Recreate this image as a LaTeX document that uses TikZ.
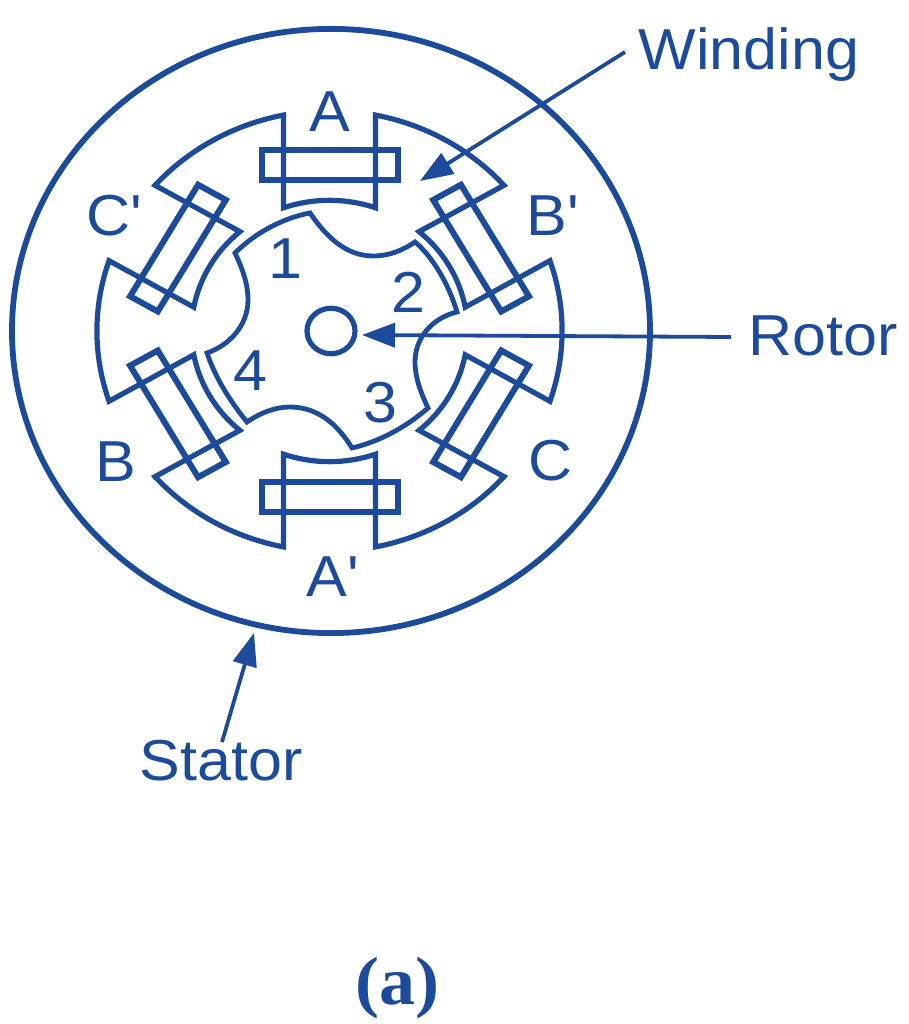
\documentclass[tikz,border=0pt]{standalone}
\usepackage{fontspec}
\usepackage{graphicx}
\newfontfamily\lblfont{Liberation Sans}
\newfontfamily\serifbold{Liberation Serif}[BoldFont={Liberation Serif Bold}]
\usetikzlibrary{arrows.meta}
\definecolor{ink}{HTML}{1C4B9B}
\newcommand{\sqz}[1]{\scalebox{1}[.947]{#1}}
\tikzset{
  part/.style={draw=ink,line width=5.2pt,line join=miter},
  coil/.style={draw=ink,line width=6pt,line join=miter},
  lbl/.style={text=ink,inner sep=0pt,font=\lblfont\fontsize{61}{61}\selectfont},
  pointer/.style={draw=ink,line width=3.8pt,-{Triangle[length=33pt,width=24pt]},shorten >=0pt},
}
\begin{document}
\begin{tikzpicture}[x=1pt,y=1pt]
\useasboundingbox (0,0) rectangle (909,1024);
% stator outer circle and rotor shaft
\begin{scope}[shift={(331,693)},yscale=.947]
  \draw[part,line width=5.8pt] (0,0) circle[radius=319pt];
  \draw[part] (0,0) circle[radius=24pt];
\end{scope}
% stator poles and coils: circular geometry, squeezed vertically as in the reference
\begin{scope}[shift={(329.5,693)},yscale=.947]
  \draw[part] (101.4:232.6pt)
    \foreach \a in {90,30,-30,-90,-150,-210}{
      -- ({\a+19.5}:138pt) arc[start angle={\a+19.5},end angle={\a-19.5},radius=138pt]
      -- ({\a-11.4}:232.6pt) arc[start angle={\a-11.4},end angle={\a-48.6},radius=232.6pt]
    } -- cycle;
  \foreach \a in {90,30,-30,-90,-150,-210}{
    \draw[coil,rotate=\a-90] (-68,159) rectangle (68,191);
  }
\end{scope}
% rotor, labels and pointers in reference pixel coordinates
\begin{scope}[shift={(0,1024)},yscale=-1]
  \draw[part,line width=4.8pt]
    (235,253) .. controls (255,233) and (283,218) .. (310,213)
    .. controls (325,235) and (345,256) .. (373,256)
    .. controls (390,256) and (403,250) .. (415,242)
    .. controls (433,257) and (449,285) .. (457,312)
    .. controls (432,318) and (415,338) .. (415,362)
    .. controls (415,378) and (421,393) .. (428,408)
    .. controls (405,428) and (378,442) .. (352,448)
    .. controls (338,425) and (318,407) .. (290,407)
    .. controls (275,407) and (260,413) .. (247,422)
    .. controls (233,405) and (216,380) .. (207,353)
    .. controls (230,345) and (248,325) .. (248,300)
    .. controls (248,283) and (242,268) .. (235,253) -- cycle;

  \node[lbl] (labA)  at (330,112) {\sqz{A}};
  \node[lbl] (labAp) at (333,577) {\sqz{A'}};
  \node[lbl] (labB)  at (116,462) {\sqz{B}};
  \node[lbl] (labBp) at (553,216) {\sqz{B'}};
  \node[lbl] (labC)  at (551,461) {\sqz{C}};
  \node[lbl] (labCp) at (114,216) {\sqz{C'}};
  \node[lbl] (num1)  at (285,259) {\sqz{1}};
  \node[lbl] (num2)  at (408,292) {\sqz{2}};
  \node[lbl] (num3)  at (380,403) {\sqz{3}};
  \node[lbl] (num4)  at (250,371) {\sqz{4}};
  \node[lbl] (winding) at (749,55)  {\sqz{Winding}};
  \node[lbl] (rotor)   at (823,336) {\sqz{Rotor}};
  \node[lbl] (stator)  at (221,761) {\sqz{Stator}};
  \node[text=ink,inner sep=0pt,font=\serifbold\bfseries\fontsize{72}{72}\selectfont] (cap) at (397,988) {\sqz{(a)}};

  \coordinate (windfrom) at (625,52);
  \coordinate (windtip)  at (420,181);
  \coordinate (rotfrom)  at (731,337);
  \coordinate (rottip)   at (362,335);
  \coordinate (statfrom) at (222,742);
  \coordinate (stattip)  at (254,633);
  \draw[pointer] (windfrom) -- (windtip);
  \draw[pointer] (rotfrom) -- (rottip);
  \draw[pointer] (statfrom) -- (stattip);
\end{scope}
\end{tikzpicture}
\end{document}
